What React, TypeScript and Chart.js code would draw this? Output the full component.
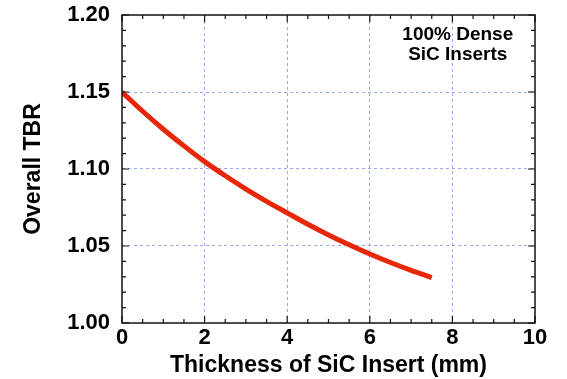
import React, { useEffect, useRef } from "react";
import { Chart, registerables } from "chart.js";

Chart.register(...registerables);

const thicknessMm = [0, 0.5, 1, 1.5, 2, 2.5, 3, 3.5, 4, 4.5, 5, 5.5, 6, 6.5, 7, 7.5];
const overallTBR = [1.15, 1.1375, 1.1258, 1.115, 1.1048, 1.0956, 1.087, 1.079, 1.0715, 1.0641, 1.0572, 1.0508, 1.0448, 1.0393, 1.0342, 1.0295];
const xTicks = [0, 2, 4, 6, 8, 10];
const yTicks = [1.0, 1.05, 1.1, 1.15, 1.2];
const annotationLines = ["100% Dense", "SiC Inserts"];

const FONT = "'Liberation Sans', Arial, Helvetica, sans-serif";

const framePlugin = {
  id: "frame",
  afterDatasetsDraw(chart: any) {
    const { ctx, chartArea } = chart;
    const xs = chart.scales.x;
    const ys = chart.scales.y;
    const { left, right, top, bottom } = chartArea;
    ctx.save();
    ctx.strokeStyle = "#111";
    ctx.lineWidth = 1.5;
    ctx.strokeRect(left, top, right - left, bottom - top);
    ctx.lineWidth = 1.2;
    for (let i = 0; i <= 20; i++) {
      const v = i * 0.5;
      const px = xs.getPixelForValue(v);
      const len = i % 4 === 0 ? 7 : 4;
      ctx.beginPath();
      ctx.moveTo(px, bottom);
      ctx.lineTo(px, bottom - len);
      ctx.moveTo(px, top);
      ctx.lineTo(px, top + len);
      ctx.stroke();
    }
    for (let i = 0; i <= 20; i++) {
      const v = 1 + i * 0.01;
      const py = ys.getPixelForValue(v);
      const len = i % 5 === 0 ? 7 : 4;
      ctx.beginPath();
      ctx.moveTo(left, py);
      ctx.lineTo(left + len, py);
      ctx.moveTo(right, py);
      ctx.lineTo(right - len, py);
      ctx.stroke();
    }
    ctx.fillStyle = "#000";
    ctx.font = `bold 19px ${FONT}`;
    ctx.textAlign = "center";
    ctx.textBaseline = "middle";
    const ax = xs.getPixelForValue(8.13);
    const ay = ys.getPixelForValue(1.1873);
    annotationLines.forEach((t, i) => ctx.fillText(t, ax, ay + i * 20));
    ctx.restore();
  },
};

export default function App() {
  const ref = useRef<HTMLCanvasElement>(null);
  useEffect(() => {
    document.body.style.margin = "0";
    const gridColor = (c: any) =>
      c.index === 0 || c.index === c.scale.ticks.length - 1 ? "rgba(0,0,0,0)" : "rgba(125,145,235,0.8)";
    const chart = new Chart(ref.current!, {
      type: "line",
      data: {
        datasets: [
          {
            data: thicknessMm.map((x, i) => ({ x, y: overallTBR[i] })),
            borderColor: "rgb(232,38,8)",
            borderWidth: 5,
            pointRadius: 0,
            cubicInterpolationMode: "monotone",
            fill: false,
          },
        ],
      },
      plugins: [framePlugin],
      options: {
        animation: false,
        responsive: false,
        devicePixelRatio: 1,
        layout: { padding: { top: 15, right: 32, left: 0, bottom: 0 } },
        plugins: { legend: { display: false }, tooltip: { enabled: false } },
        scales: {
          x: {
            type: "linear",
            min: 0,
            max: 10,
            afterBuildTicks: (s: any) => {
              s.ticks = xTicks.map((v) => ({ value: v }));
            },
            afterFit: (s: any) => {
              s.height = 56;
              s.paddingLeft = 0;
              s.paddingRight = 0;
            },
            ticks: {
              color: "#000",
              font: { family: FONT, size: 22, weight: "bold" },
              padding: 2,
              maxRotation: 0,
            },
            grid: { color: gridColor, drawTicks: false, lineWidth: 1 },
            border: { display: false, dash: [3, 3] },
            title: {
              display: true,
              text: "Thickness of SiC Insert (mm)",
              color: "#000",
              font: { family: FONT, size: 23, weight: "bold" },
              padding: { top: 0, bottom: 0 },
            },
          },
          y: {
            type: "linear",
            min: 1.0,
            max: 1.2,
            afterBuildTicks: (s: any) => {
              s.ticks = yTicks.map((v) => ({ value: v }));
            },
            afterFit: (s: any) => {
              s.width = 122;
              s.paddingTop = 0;
              s.paddingBottom = 0;
            },
            ticks: {
              color: "#000",
              font: { family: FONT, size: 22, weight: "bold" },
              padding: 12,
              callback: (v: any) => Number(v).toFixed(2),
            },
            grid: { color: gridColor, drawTicks: false, lineWidth: 1 },
            border: { display: false, dash: [3, 3] },
            title: {
              display: true,
              text: "Overall TBR",
              color: "#000",
              font: { family: FONT, size: 23, weight: "bold" },
              padding: { top: 20, bottom: 0 },
            },
          },
        },
      },
    });
    return () => chart.destroy();
  }, []);
  return (
    <div style={{ width: 567, height: 379, background: "#fff" }}>
      <canvas ref={ref} width={567} height={379} style={{ display: "block" }} />
    </div>
  );
}
